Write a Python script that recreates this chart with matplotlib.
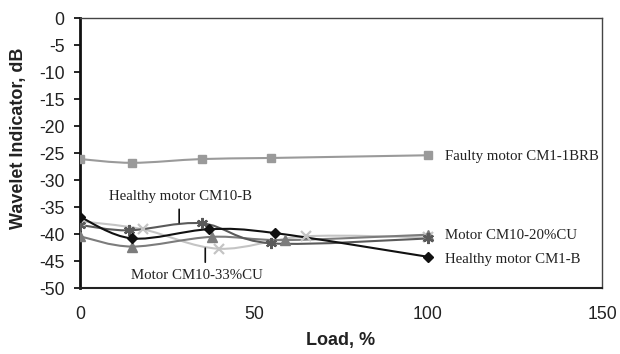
import matplotlib
import numpy as np

matplotlib.use("Agg")
import matplotlib.pyplot as plt
from matplotlib.patches import PathPatch
from matplotlib.path import Path

plt.rcParams["axes.unicode_minus"] = False

# Load (%) and wavelet indicator (dB)
faulty_cm1_x = [0, 15, 35, 55, 100]
faulty_cm1_y = [-26.1, -26.8, -26.1, -25.9, -25.4]

healthy_cm1_x = [0, 15, 37, 56, 100]
healthy_cm1_y = [-36.8, -40.8, -39.1, -39.8, -44.2]

cm10_20cu_x = [0, 15, 38, 59, 100]
cm10_20cu_y = [-40.4, -42.3, -40.5, -41.1, -40.1]

cm10_33cu_x = [0, 18, 40, 65, 100]
cm10_33cu_y = [-37.6, -39.1, -42.7, -40.4, -40.6]

healthy_cm10_x = [0, 14, 35, 55, 100]
healthy_cm10_y = [-38.3, -39.3, -38.0, -41.7, -40.8]

X_TICKS = [0, 50, 100, 150]
Y_TICKS = list(range(-50, 1, 5))

SERIF = ["Liberation Serif", "DejaVu Serif"]
SANS = ["Liberation Sans", "DejaVu Sans"]
TEXT_COLOR = "#222222"


def smooth_path(xs, ys):
    """Excel-style smoothed line: cubic Bezier segments through the points."""
    pts = np.column_stack([xs, ys]).astype(float)
    n = len(pts)
    verts = [pts[0]]
    codes = [Path.MOVETO]
    for i in range(n - 1):
        p_prev = pts[i - 1] if i > 0 else pts[i]
        p_next2 = pts[i + 2] if i + 2 < n else pts[i + 1]
        c1 = pts[i] + (pts[i + 1] - p_prev) / 6.0
        c2 = pts[i + 1] - (p_next2 - pts[i]) / 6.0
        verts.extend([c1, c2, pts[i + 1]])
        codes.extend([Path.CURVE4] * 3)
    return Path(verts, codes)


def draw_series(ax, xs, ys, color, marker, ms, lw=1.5, mew=1.0, z=3):
    ax.add_patch(PathPatch(smooth_path(xs, ys), facecolor="none", edgecolor=color,
                           linewidth=lw, zorder=z))
    ax.plot(xs, ys, linestyle="none", marker=marker, markersize=ms, color=color,
            markeredgecolor=color, markeredgewidth=mew, zorder=z + 0.5)


fig = plt.figure(figsize=(6.2, 3.54), dpi=100)
ax = fig.add_axes([0.129, 0.186, 0.842, 0.763])

draw_series(ax, faulty_cm1_x, faulty_cm1_y, "#9a9a9a", "s", 5.2)
draw_series(ax, cm10_33cu_x, cm10_33cu_y, "#c4c4c4", "x", 6.5, mew=1.6)
draw_series(ax, cm10_20cu_x, cm10_20cu_y, "#7c7c7c", "^", 6.5)
draw_series(ax, healthy_cm10_x, healthy_cm10_y, "#5a5a5a", (6, 2, 0), 8, mew=1.6)
draw_series(ax, healthy_cm1_x, healthy_cm1_y, "#111111", "D", 5.0)

ax.set_xlim(0, 150)
ax.set_ylim(-50, 0)
ax.set_xticks(X_TICKS)
ax.set_yticks(Y_TICKS)
ax.tick_params(axis="x", length=0, pad=13, labelsize=12.7)
ax.tick_params(axis="y", length=4, width=1.2, direction="out", pad=7, labelsize=12.7)
for lab in ax.get_xticklabels() + ax.get_yticklabels():
    lab.set_family(SANS)
    lab.set_color(TEXT_COLOR)

for side in ["top", "right"]:
    ax.spines[side].set_linewidth(1.0)
    ax.spines[side].set_color("#444444")
ax.spines["left"].set_linewidth(2.0)
ax.spines["left"].set_color("#111111")
ax.spines["bottom"].set_linewidth(1.5)
ax.spines["bottom"].set_color("#222222")

ax.set_xlabel("Load, %", family=SANS, fontweight="bold", fontsize=13, labelpad=6,
              color=TEXT_COLOR)
ax.set_ylabel("Wavelet Indicator, dB", family=SANS, fontweight="bold", fontsize=13,
              color=TEXT_COLOR)
ax.yaxis.set_label_coords(-0.101, 0.556)

# Series labels
label_style = dict(family=SERIF, fontsize=10.7, va="center", ha="left", color=TEXT_COLOR)
ax.text(105, -25.6, "Faulty motor CM1-1BRB", **label_style)
ax.text(105, -40.2, "Motor CM10-20%CU", **label_style)
ax.text(105, -44.7, "Healthy motor CM1-B", **label_style)

# Callouts with short leader lines
callout_style = dict(family=SERIF, fontsize=10.7, va="center", ha="center", color=TEXT_COLOR)
ax.text(29, -33.1, "Healthy motor CM10-B", **callout_style)
ax.annotate("", xy=(28.5, -37.9), xytext=(28.5, -35.4),
            arrowprops=dict(arrowstyle="-", color="#111111", lw=1.2, shrinkA=0, shrinkB=0))
ax.text(33.5, -47.6, "Motor CM10-33%CU", **callout_style)
ax.annotate("", xy=(36, -42.6), xytext=(36, -45.2),
            arrowprops=dict(arrowstyle="-", color="#111111", lw=1.2, shrinkA=0, shrinkB=0))

fig.savefig("out.png", dpi=100)
